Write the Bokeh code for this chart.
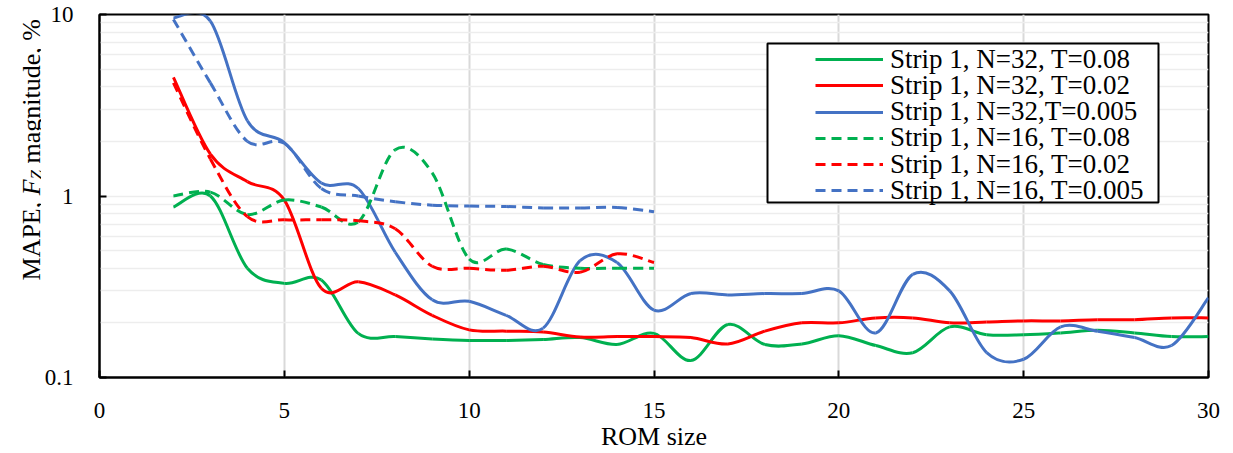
import numpy as np
from bokeh.plotting import figure
from bokeh.layouts import row
from bokeh.models import (FixedTicker, BasicTickFormatter, Legend, LegendItem,
                          BoxAnnotation, Label, Range1d)
from bokeh.embed import file_html
from bokeh.resources import INLINE

# ---------------- data ----------------
rom_n32 = list(range(2, 31))
rom_n16 = list(range(2, 16))

mape_n32_t008 = [0.87, 1.0, 0.40, 0.33, 0.345, 0.175, 0.168, 0.163, 0.16, 0.16,
                 0.162, 0.166, 0.152, 0.175, 0.124, 0.196, 0.152, 0.153, 0.17, 0.15,
                 0.137, 0.19, 0.172, 0.172, 0.176, 0.182, 0.176, 0.168, 0.168]
mape_n32_t002 = [4.5, 1.7, 1.2, 0.95, 0.31, 0.337, 0.285, 0.22, 0.183, 0.18,
                 0.178, 0.167, 0.168, 0.168, 0.166, 0.153, 0.18, 0.2, 0.2, 0.213,
                 0.213, 0.2, 0.202, 0.205, 0.205, 0.208, 0.208, 0.213, 0.213]
mape_n32_t0005 = [9.6, 9.2, 2.6, 1.97, 1.18, 1.1, 0.49, 0.268, 0.263, 0.22,
                  0.187, 0.44, 0.43, 0.235, 0.29, 0.285, 0.29, 0.29, 0.3, 0.176,
                  0.37, 0.3, 0.137, 0.126, 0.19, 0.18, 0.166, 0.15, 0.275]
mape_n16_t008 = [1.0, 1.05, 0.79, 0.95, 0.87, 0.72, 1.8, 1.34, 0.45, 0.51,
                 0.42, 0.4, 0.4, 0.4]
mape_n16_t002 = [4.2, 1.6, 0.77, 0.74, 0.74, 0.73, 0.66, 0.41, 0.40, 0.39,
                 0.41, 0.38, 0.48, 0.43]
mape_n16_t0005 = [9.4, 4.2, 2.0, 1.95, 1.1, 1.0, 0.93, 0.89, 0.88, 0.875,
                  0.86, 0.86, 0.865, 0.82]

labels = ["Strip 1, N=32, T=0.08", "Strip 1, N=32, T=0.02", "Strip 1, N=32,T=0.005",
          "Strip 1, N=16, T=0.08", "Strip 1, N=16, T=0.02", "Strip 1, N=16, T=0.005"]
x_ticks = [0, 5, 10, 15, 20, 25, 30]
y_ticks = [0.1, 1, 10]
y_minor = [0.2, 0.3, 0.4, 0.5, 0.6, 0.7, 0.8, 0.9, 2, 3, 4, 5, 6, 7, 8, 9]

GREEN, RED, BLUE = "#00B050", "#FF0000", "#4472C4"
series = [
    (rom_n32, mape_n32_t008, GREEN, "solid"),
    (rom_n32, mape_n32_t002, RED, "solid"),
    (rom_n32, mape_n32_t0005, BLUE, "solid"),
    (rom_n16, mape_n16_t008, GREEN, "10 6"),
    (rom_n16, mape_n16_t002, RED, "10 6"),
    (rom_n16, mape_n16_t0005, BLUE, "10 6"),
]

FONT = "Liberation Serif"
LEFT_W = 41

p = figure(width=1233 - LEFT_W, height=453, y_axis_type="log",
           x_range=Range1d(0, 30), y_range=Range1d(0.1, 10),
           output_backend="svg", toolbar_location=None,
           min_border_left=99 - LEFT_W, min_border_right=25,
           min_border_top=14, min_border_bottom=75)
p.outline_line_color = "black"
p.outline_line_width = 2
p.background_fill_color = "white"


def smooth(xs, ys):
    """Bezier control points (Catmull-Rom style, in log-y space) from the data."""
    x = np.asarray(xs, float)
    ly = np.log10(np.asarray(ys, float))
    n = len(x)
    px = np.concatenate([[x[0]], x, [x[-1]]])
    py = np.concatenate([[ly[0]], ly, [ly[-1]]])
    x0, x1 = px[1:n], px[2:n + 1]
    y0, y1 = py[1:n], py[2:n + 1]
    cx0 = x0 + (px[2:n + 1] - px[0:n - 1]) / 6
    cy0 = y0 + (py[2:n + 1] - py[0:n - 1]) / 6
    cx1 = x1 - (px[3:n + 2] - px[1:n]) / 6
    cy1 = y1 - (py[3:n + 2] - py[1:n]) / 6
    return dict(x0=x0, y0=10 ** y0, x1=x1, y1=10 ** y1,
                cx0=cx0, cy0=10 ** cy0, cx1=cx1, cy1=10 ** cy1)


renderers = []
for xs, ys, col, dash in series:
    d = smooth(xs, ys)
    r = p.bezier(x0=d["x0"], y0=d["y0"], x1=d["x1"], y1=d["y1"],
                 cx0=d["cx0"], cy0=d["cy0"], cx1=d["cx1"], cy1=d["cy1"],
                 line_color=col, line_width=3, line_dash=dash)
    renderers.append(r)

# axes
p.xaxis.ticker = FixedTicker(ticks=x_ticks)
p.yaxis.ticker = FixedTicker(ticks=y_ticks, minor_ticks=y_minor)
p.yaxis.formatter = BasicTickFormatter()
for ax in (p.xaxis[0], p.yaxis[0]):
    ax.axis_line_color = "black"
    ax.axis_line_width = 2
    ax.major_tick_in = 7
    ax.major_tick_out = 0
    ax.major_tick_line_color = "black"
    ax.major_tick_line_width = 2
    ax.minor_tick_line_color = None
    ax.major_label_text_font = FONT
    ax.major_label_text_font_size = "23px"
    ax.major_label_text_color = "black"
p.yaxis.major_label_standoff = 22
p.xaxis.major_label_standoff = 25
p.xaxis.axis_label = "ROM size"
p.xaxis.axis_label_text_font = FONT
p.xaxis.axis_label_text_font_size = "26px"
p.xaxis.axis_label_text_font_style = "normal"
p.xaxis.axis_label_text_color = "black"
p.xaxis.axis_label_standoff = 1

# grids
p.xgrid.grid_line_color = "#D9D9D9"
p.xgrid.grid_line_width = 2
p.ygrid.grid_line_color = "#EDEDED"
p.ygrid.grid_line_width = 1.5
p.ygrid.minor_grid_line_color = "#EDEDED"
p.ygrid.minor_grid_line_width = 1.5

# legend frame and legend rows
box = BoxAnnotation(left=668, right=1059, bottom=175, top=334,
                    left_units="screen", right_units="screen",
                    bottom_units="screen", top_units="screen",
                    fill_color="white", fill_alpha=1.0,
                    line_color="black", line_alpha=1.0, line_width=2)
p.add_layout(box)

ROW_H = 30.4      # height of one legend entry as laid out by bokeh
FIRST_ROW = 317.5 # centre of first entry, px above the frame bottom
PITCH = 26.2
for i, (lab, r) in enumerate(zip(labels, renderers)):
    centre = FIRST_ROW - i * PITCH
    lg = Legend(items=[LegendItem(label=lab, renderers=[r])],
                location=(716, centre - ROW_H / 2), padding=0, margin=0, spacing=0,
                glyph_width=68, glyph_height=20, label_standoff=7,
                label_text_font=FONT, label_text_font_size="27px",
                label_text_color="black",
                background_fill_alpha=0, border_line_alpha=0)
    p.add_layout(lg)

# ---------- y-axis title panel (italic F with subscript Z) ----------
yt = figure(width=LEFT_W, height=453, output_backend="svg", toolbar_location=None,
            x_range=Range1d(0, 1), y_range=Range1d(0, 1),
            x_axis_location=None, y_axis_location=None, min_border=0)
yt.grid.visible = False
yt.outline_line_color = None
yt.background_fill_color = "white"
yt.border_fill_color = "white"

base_x = 31
cur = 453 - 356
pieces = [
    ("MAPE,", "normal", "26px", 0, 85.2),
    ("F", "italic", "26px", 0, 15.9),
    ("Z", "italic", "17px", 5, 9.5 + 6.5),
    ("magnitude, %", "normal", "26px", 0, 0),
]
for txt, style, size, dx, adv in pieces:
    yt.add_layout(Label(x=base_x + dx, y=cur, x_units="screen", y_units="screen",
                        text=txt, angle=90, angle_units="deg",
                        text_font=FONT, text_font_size=size, text_font_style=style,
                        text_color="black", text_baseline="alphabetic",
                        text_align="left"))
    cur += adv

layout = row(yt, p, spacing=0)
open("out.html", "w").write(file_html(layout, INLINE))
